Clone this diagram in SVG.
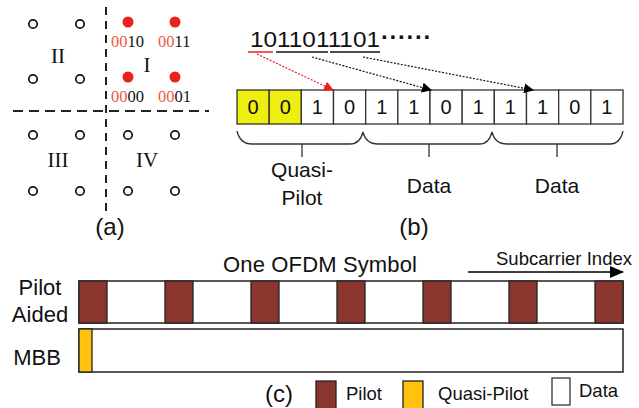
<svg xmlns="http://www.w3.org/2000/svg" width="639" height="408" viewBox="0 0 639 408">
<defs>
<style>
.sans{font-family:"Liberation Sans",Arial,sans-serif;fill:#111}
.serif{font-family:"Liberation Serif","Times New Roman",serif;fill:#111}
.lbl{font-family:"Liberation Serif","Times New Roman",serif;font-size:16.5px;fill:#111}
.red{fill:#EE5A3C}
.oc{fill:none;stroke:#111;stroke-width:1.7}
.rd{fill:#E8231C}
.cell{fill:#fff;stroke:#333;stroke-width:1.3}
.ycell{fill:#EEEE10;stroke:#333;stroke-width:1.3}
.pilot{fill:#8B352F;stroke:#222;stroke-width:1.3}
.bar{fill:#fff;stroke:#222;stroke-width:1.5}
.quasi{fill:#FFC20E;stroke:#222;stroke-width:1.3}
.brace{fill:none;stroke:#333;stroke-width:1.3}
</style>
<marker id="ahB" markerWidth="10" markerHeight="10" refX="9" refY="5" orient="auto" markerUnits="userSpaceOnUse"><path d="M0,0 L10,5 L0,10 z" fill="#000"/></marker>
<marker id="ahR" markerWidth="10" markerHeight="10" refX="9" refY="5" orient="auto" markerUnits="userSpaceOnUse"><path d="M0,0 L10,5 L0,10 z" fill="#E8231C"/></marker>
<marker id="ahS" markerWidth="14" markerHeight="12" refX="13" refY="6" orient="auto" markerUnits="userSpaceOnUse"><path d="M0,0 L14,6 L0,12 z" fill="#000"/></marker>
</defs>
<rect width="639" height="408" fill="#fff"/>

<!-- (a) constellation -->
<g id="constellation">
<line x1="106" y1="7" x2="106" y2="212" stroke="#222" stroke-width="2" stroke-dasharray="8,6"/>
<line x1="13" y1="111" x2="209" y2="111" stroke="#222" stroke-width="2" stroke-dasharray="10,6"/>
<circle class="oc" cx="33" cy="24" r="4.2"/><circle class="oc" cx="80" cy="24" r="4.2"/>
<circle class="oc" cx="33" cy="79" r="4.2"/><circle class="oc" cx="80" cy="79" r="4.2"/>
<circle class="oc" cx="33" cy="135" r="4.2"/><circle class="oc" cx="80" cy="135" r="4.2"/>
<circle class="oc" cx="128" cy="135" r="4.2"/><circle class="oc" cx="175" cy="135" r="4.2"/>
<circle class="oc" cx="33" cy="191" r="4.2"/><circle class="oc" cx="80" cy="191" r="4.2"/>
<circle class="oc" cx="128" cy="191" r="4.2"/><circle class="oc" cx="175" cy="191" r="4.2"/>
<circle class="rd" cx="128" cy="22" r="5.5"/><circle class="rd" cx="175" cy="22" r="5.5"/>
<circle class="rd" cx="128" cy="77" r="5.5"/><circle class="rd" cx="175" cy="77" r="5.5"/>
<text class="lbl" x="111" y="47"><tspan class="red">00</tspan>10</text>
<text class="lbl" x="158" y="47"><tspan class="red">00</tspan>11</text>
<text class="lbl" x="111" y="102"><tspan class="red">00</tspan>00</text>
<text class="lbl" x="158" y="102"><tspan class="red">00</tspan>01</text>
<text class="serif" x="58" y="63" font-size="21" text-anchor="middle">II</text>
<text class="serif" x="147" y="72" font-size="21" text-anchor="middle">I</text>
<text class="serif" x="58" y="167" font-size="21" text-anchor="middle">III</text>
<text class="serif" x="147" y="167" font-size="21" text-anchor="middle">IV</text>
<text class="sans" x="110" y="235" font-size="24" text-anchor="middle">(a)</text>
</g>

<!-- (b) bit mapping -->
<g id="bitstring">
<text class="sans" x="250" y="47" font-size="22" textLength="130" lengthAdjust="spacingAndGlyphs">1011011101</text>
<text class="sans" x="381" y="45" font-size="24" font-weight="bold" letter-spacing="0.5">······</text>
<line x1="248" y1="52" x2="273" y2="52" stroke="#E8231C" stroke-width="1.5"/>
<line x1="276" y1="52" x2="328" y2="52" stroke="#111" stroke-width="1.5"/>
<line x1="330" y1="52" x2="380" y2="52" stroke="#111" stroke-width="1.5"/>
</g>
<g id="cells">
<rect class="ycell" x="237" y="90" width="32.17" height="34"/>
<rect class="ycell" x="269.17" y="90" width="32.17" height="34"/>
<rect class="cell" x="301.33" y="90" width="32.17" height="34"/>
<rect class="cell" x="333.5" y="90" width="32.17" height="34"/>
<rect class="cell" x="365.67" y="90" width="32.17" height="34"/>
<rect class="cell" x="397.83" y="90" width="32.17" height="34"/>
<rect class="cell" x="430" y="90" width="32.17" height="34"/>
<rect class="cell" x="462.17" y="90" width="32.17" height="34"/>
<rect class="cell" x="494.33" y="90" width="32.17" height="34"/>
<rect class="cell" x="526.5" y="90" width="32.17" height="34"/>
<rect class="cell" x="558.67" y="90" width="32.17" height="34"/>
<rect class="cell" x="590.83" y="90" width="32.17" height="34"/>
<g class="sans" font-size="20" text-anchor="middle">
<text x="253.1" y="114">0</text><text x="285.3" y="114">0</text><text x="317.4" y="114">1</text><text x="349.6" y="114">0</text>
<text x="381.8" y="114">1</text><text x="413.9" y="114">1</text><text x="446.1" y="114">0</text><text x="478.3" y="114">1</text>
<text x="510.4" y="114">1</text><text x="542.6" y="114">1</text><text x="574.8" y="114">0</text><text x="606.9" y="114">1</text>
</g>
</g>
<g id="connectors">
<line x1="257" y1="54" x2="333" y2="90" stroke="#E8231C" stroke-width="1.2" stroke-dasharray="2,1.5" marker-end="url(#ahR)"/>
<line x1="312" y1="57" x2="431" y2="90" stroke="#111" stroke-width="1.2" stroke-dasharray="2,1.5" marker-end="url(#ahB)"/>
<line x1="363" y1="57" x2="533" y2="90" stroke="#111" stroke-width="1.2" stroke-dasharray="2,1.5" marker-end="url(#ahB)"/>
<line x1="468" y1="272" x2="623" y2="272" stroke="#000" stroke-width="1.5" marker-end="url(#ahS)"/>
</g>
<g id="braces">
<path class="brace" d="M237,131 Q240,144 252,144 L350,144 Q360,144 363,132 Q366,144 378,144 L480,144 Q489,144 492,132 Q495,144 507,144 L610,144 Q620,144 623,131"/>
<line class="brace" x1="302" y1="144" x2="302" y2="157"/>
<line class="brace" x1="429" y1="144" x2="429" y2="157"/>
<line class="brace" x1="557" y1="144" x2="557" y2="157"/>
<text class="sans" x="302" y="177" font-size="21" text-anchor="middle">Quasi-</text>
<text class="sans" x="302" y="205" font-size="21" text-anchor="middle">Pilot</text>
<text class="sans" x="429" y="193" font-size="21" text-anchor="middle">Data</text>
<text class="sans" x="557" y="193" font-size="21" text-anchor="middle">Data</text>
<text class="sans" x="414" y="235" font-size="24" text-anchor="middle">(b)</text>
</g>

<!-- (c) -->
<g id="ofdm">
<text class="sans" x="223" y="272" font-size="22" textLength="194">One OFDM Symbol</text>
<text class="sans" x="496" y="265" font-size="18.5" textLength="136">Subcarrier Index</text>
<text class="sans" x="40" y="295" font-size="22" text-anchor="middle">Pilot</text>
<text class="sans" x="40" y="322" font-size="22" text-anchor="middle">Aided</text>
<text class="sans" x="37" y="365" font-size="22" text-anchor="middle">MBB</text>
</g>
<g id="pilot-aided">
<rect class="bar" x="79" y="281" width="544" height="42"/>
<rect class="pilot" x="79" y="281" width="28" height="42"/>
<rect class="pilot" x="165" y="281" width="28" height="42"/>
<rect class="pilot" x="251" y="281" width="28" height="42"/>
<rect class="pilot" x="337" y="281" width="28" height="42"/>
<rect class="pilot" x="423" y="281" width="28" height="42"/>
<rect class="pilot" x="509" y="281" width="28" height="42"/>
<rect class="pilot" x="595" y="281" width="28" height="42"/>
</g>
<g id="mbb">
<rect class="bar" x="79" y="329" width="544" height="43"/>
<rect class="quasi" x="79" y="329" width="13" height="43"/>
</g>
<g id="legend">
<text class="sans" x="279" y="402" font-size="24" text-anchor="middle">(c)</text>
<rect class="pilot" x="316" y="381" width="20" height="30"/>
<text class="sans" x="346" y="400" font-size="18.5">Pilot</text>
<rect class="quasi" x="403" y="381" width="20" height="30"/>
<text class="sans" x="438" y="400" font-size="18.5">Quasi-Pilot</text>
<rect class="cell" x="552" y="378" width="18" height="27" stroke="#222"/>
<text class="sans" x="579" y="397" font-size="18.5">Data</text>
</g>
</svg>
